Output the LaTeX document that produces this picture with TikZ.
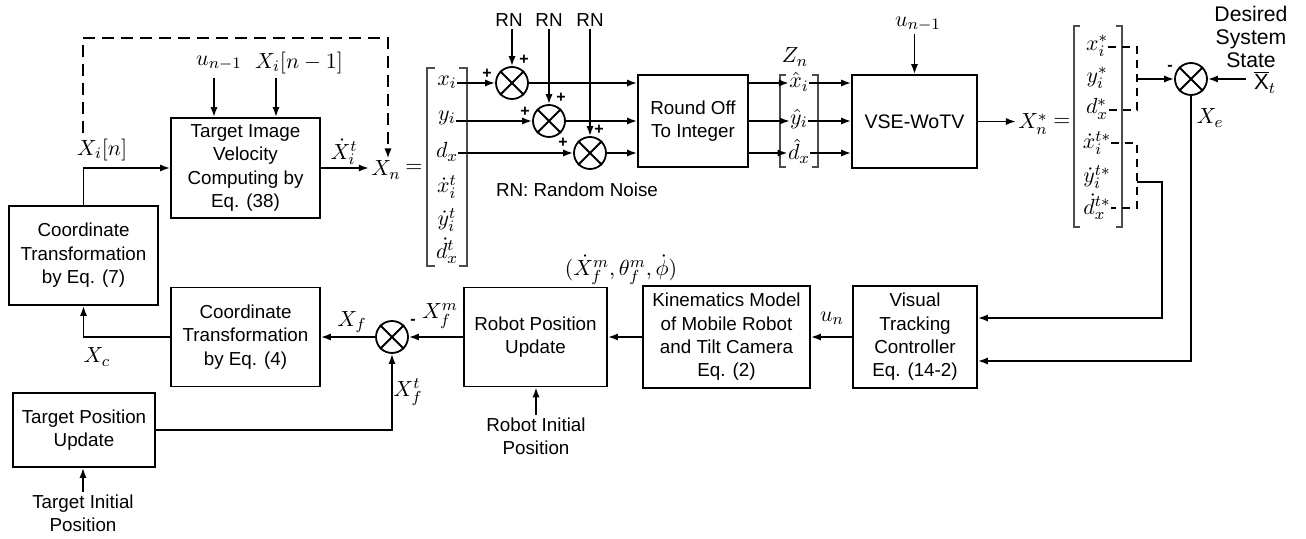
\documentclass[tikz,border=0pt]{standalone}
\usepackage{fontspec}
\setmainfont{Liberation Sans}
\usetikzlibrary{arrows.meta}
\newcommand\txtf{\fontsize{9.4}{11.7}\selectfont}
\newcommand\mathf{\fontsize{11}{13}\selectfont}
\newcommand\crossit[1]{\draw[wire] (#1.north east) -- (#1.south west) (#1.north west) -- (#1.south east);}
\tikzset{
 blk/.style={draw, line width=0.9pt, align=center, font=\txtf, inner sep=1pt},
 txt/.style={align=center, font=\txtf, inner sep=1pt},
 sumn/.style={circle, draw, line width=0.9pt, minimum size=16pt, inner sep=0pt},
 lab/.style={font=\mathf, inner sep=1pt},
 ent/.style={font=\mathf, inner sep=0pt},
 wire/.style={line width=0.9pt},
 conn/.style={line width=0.9pt, -{Latex[length=5pt,width=3.6pt]}},
 dconn/.style={line width=0.9pt, dash pattern=on 6pt off 3.5pt, -{Latex[length=5pt,width=3.6pt]}},
 dwire/.style={line width=0.9pt, dash pattern=on 4pt off 3pt},
 brk/.style={line width=0.6pt, draw=black!70},
 sgn/.style={font=\fontsize{8}{8}\selectfont\bfseries, inner sep=0pt},
}
\begin{document}
\begin{tikzpicture}[x=0.5pt,y=-0.5pt]
\useasboundingbox (0,0) rectangle (1306,539);
% blocks
\node[blk, minimum width=74.5pt, minimum height=49.5pt] (C7) at (83.5,255.5) {Coordinate\\Transformation\\by Eq. (7)};
\node[blk, minimum width=74.5pt, minimum height=50pt] (TIV) at (245.5,168) {Target Image\\Velocity\\Computing by\\Eq. (38)};
\node[blk, minimum width=55pt, minimum height=46pt] (ROI) at (693,121) {Round Off\\To Integer};
\node[blk, minimum width=62.5pt, minimum height=46.5pt, font=\fontsize{9.8}{12}\selectfont] (VSE) at (914.5,121.5) {VSE-WoTV};
\node[blk, minimum width=62pt, minimum height=51pt] (VTC) at (915,337) {Visual\\Tracking\\Controller\\Eq. (14-2)};
\node[blk, minimum width=83.5pt, minimum height=51pt] (KIN) at (726.5,337) {Kinematics Model\\of Mobile Robot\\and Tilt Camera\\Eq. (2)};
\node[blk, minimum width=71.5pt, minimum height=49.5pt] (RPU) at (535.5,337) {Robot Position\\Update};
\node[blk, minimum width=74.5pt, minimum height=49.5pt] (C4) at (245.5,337) {Coordinate\\Transformation\\by Eq. (4)};
\node[blk, minimum width=71pt, minimum height=37pt] (TPU) at (84,430) {Target Position\\Update};
% sums
\node[sumn] (S1) at (512,83) {};
\node[sumn] (S2) at (549,121) {};
\node[sumn] (S3) at (590,153) {};
\node[sumn] (SE) at (1191,79) {};
\node[sumn] (S4) at (392,337) {};
\crossit{S1}\crossit{S2}\crossit{S3}\crossit{SE}\crossit{S4}
% top-left part
\node[lab] (Xin) at (102,150) {$X_i[n]$};
\draw[conn] (C7.north) |- (TIV.west);
\coordinate (d0) at (83,133);
\coordinate (dtop) at (388,38);
\node[lab] (un1) at (219,63) {$u_{n-1}$};
\node[lab] (Xim1) at (299,63) {$X_i[n-1]$};
\coordinate (ua) at (214,78);
\coordinate (xa) at (276,78);
\draw[conn] (ua) -- (ua |- TIV.north);
\draw[conn] (xa) -- (xa |- TIV.north);
\node[lab] (Xdot) at (344,152) {$\dot X_i^t$};
\node[lab] (Xn) at (386,170) {$X_n$};
\node[lab] (eq1) at (414,168) {$=$};
\draw[conn] (TIV.east) -- (Xn.west |- TIV.east);
\draw[dconn] (d0) |- (dtop) -- (dtop |- Xn.north);
% vector X_n
\draw[brk] (435,68) -- (427,68) -- (427,266) -- (435,266);
\draw[brk] (459,68) -- (467,68) -- (467,266) -- (459,266);
\node[ent] (v1) at (447,82) {$x_i$};
\node[ent] (v2) at (447,118) {$y_i$};
\node[ent] (v3) at (447,152) {$d_x$};
\node[ent] (v4) at (447,187) {$\dot x_i^t$};
\node[ent] (v5) at (447,220) {$\dot y_i^t$};
\node[ent] (v6) at (447,251) {$\dot d_x^t$};
% RN
\node[txt] (RN1) at (509,20) {RN};
\node[txt] (RN2) at (549,20) {RN};
\node[txt] (RN3) at (590,20) {RN};
\draw[conn] (RN1.south -| S1.north) -- (S1.north);
\draw[conn] (RN2.south -| S2.north) -- (S2.north);
\draw[conn] (RN3.south -| S3.north) -- (S3.north);
\node[sgn] at (487,74) {+};
\node[sgn] at (524,60) {+};
\node[sgn] at (525,112) {+};
\node[sgn] at (561,98) {+};
\node[sgn] at (563,143) {+};
\node[sgn] at (599,130) {+};
\draw[conn] (v1.east |- S1.west) -- (S1.west);
\draw[conn] (v2.east |- S2.west) -- (S2.west);
\draw[conn] (v3.east |- S3.west) -- (S3.west);
\draw[conn] (S1.east) -- (ROI.west |- S1.east);
\draw[conn] (S2.east) -- (ROI.west |- S2.east);
\draw[conn] (S3.east) -- (ROI.west |- S3.east);
\node[txt] (rnlab) at (577,190) {RN: Random Noise};
% Z_n
\node[lab] (Zn) at (795,57) {$Z_n$};
\draw[brk] (786,75) -- (780,75) -- (780,167) -- (786,167);
\draw[brk] (812,75) -- (818,75) -- (818,167) -- (812,167);
\node[ent] (z1) at (799,82) {$\hat x_i$};
\node[ent] (z2) at (799,119) {$\hat y_i$};
\node[ent] (z3) at (799,151) {$\hat d_x$};
\draw[conn] (ROI.east |- S1.east) -- (z1.west |- S1.east);
\draw[conn] (ROI.east |- S2.east) -- (z2.west |- S2.east);
\draw[conn] (ROI.east |- S3.east) -- (z3.west |- S3.east);
\draw[conn] (z1.east |- S1.east) -- (VSE.west |- S1.east);
\draw[conn] (z2.east |- S2.east) -- (VSE.west |- S2.east);
\draw[conn] (z3.east |- S3.east) -- (VSE.west |- S3.east);
% VSE
\node[lab] (un2) at (918,24) {$u_{n-1}$};
\draw[conn] (un2.south -| VSE.north) -- (VSE.north);
\node[lab] (Xs) at (1033,124) {$X_n^*$};
\node[lab] (eq2) at (1062,122) {$=$};
\draw[conn] (VSE.east) -- (Xs.west |- VSE.east);
% X_n^* vector
\draw[brk] (1080,26) -- (1074,26) -- (1074,227) -- (1080,227);
\draw[brk] (1116,26) -- (1122,26) -- (1122,227) -- (1116,227);
\node[ent] (w1) at (1097,46) {$x_i^*$};
\node[ent] (w2) at (1097,78) {$y_i^*$};
\node[ent] (w3) at (1097,109) {$d_x^*$};
\node[ent] (w4) at (1097,143) {$\dot x_i^{t*}$};
\node[ent] (w5) at (1097,177) {$\dot y_i^{t*}$};
\node[ent] (w6) at (1097,207) {$\dot d_x^{t*}$};
\coordinate (b1) at (1137,47);
\coordinate (b2) at (1137,110);
\coordinate (b3) at (1137,143);
\coordinate (b4) at (1137,208);
\draw[dwire] (w1.east |- b1) -- (b1) -- (b2) -- (w3.east |- b2);
\draw[dwire] (w4.east |- b3) -- (b3) -- (b4) -- (w6.east |- b4);
\coordinate (m1) at (1137,79);
\coordinate (m2) at (1137,182);
\coordinate (k1) at (1162,318);
\coordinate (k2) at (1191,361);
\draw[conn] (m1) -- (SE.west);
\draw[conn] (m2) -| (k1) -- (k1 -| VTC.east);
\draw[conn] (SE.south) -- (k2) -- (k2 -| VTC.east);
\node[sgn] at (1170,68) {-};
\node[lab] (Xe) at (1210,118) {$X_e$};
\node[txt, font=\fontsize{10.6}{11.7}\selectfont] (des) at (1251,37) {Desired\\System\\State};
\node[lab] (xt) at (1265,82) {$\overline{\mathrm{X}}_t$};
\draw[conn] ([xshift=-3pt]xt.west |- SE.east) -- (SE.east);
% lower row
\draw[conn] (VTC.west) -- (KIN.east);
\node[lab] (un) at (832,318) {$u_n$};
\draw[conn] (KIN.west) -- (RPU.east);
\node[lab] (phil) at (621,270) {$(\dot X_f^m, \theta_f^m, \dot\phi)$};
\draw[conn] (RPU.west) -- (S4.east);
\node[sgn] at (413,322) {-};
\node[lab] (Xfm) at (440,316) {$X_f^m$};
\draw[conn] (S4.west) -- (C4.east);
\node[lab] (Xf) at (352,322) {$X_f$};
\draw[conn] (C4.west) -| (C7.south);
\node[lab] (Xc) at (97,357) {$X_c$};
\draw[conn] (TPU.east) -| (S4.south);
\node[lab] (Xft) at (408,392) {$X_f^t$};
\node[txt] (tip) at (83,513) {Target Initial\\Position};
\draw[conn] (tip.north) -- (tip.north |- TPU.south);
\node[txt] (rip) at (536,436) {Robot Initial\\Position};
\draw[conn] (rip.north) -- (rip.north |- RPU.south);
\end{tikzpicture}
\end{document}
